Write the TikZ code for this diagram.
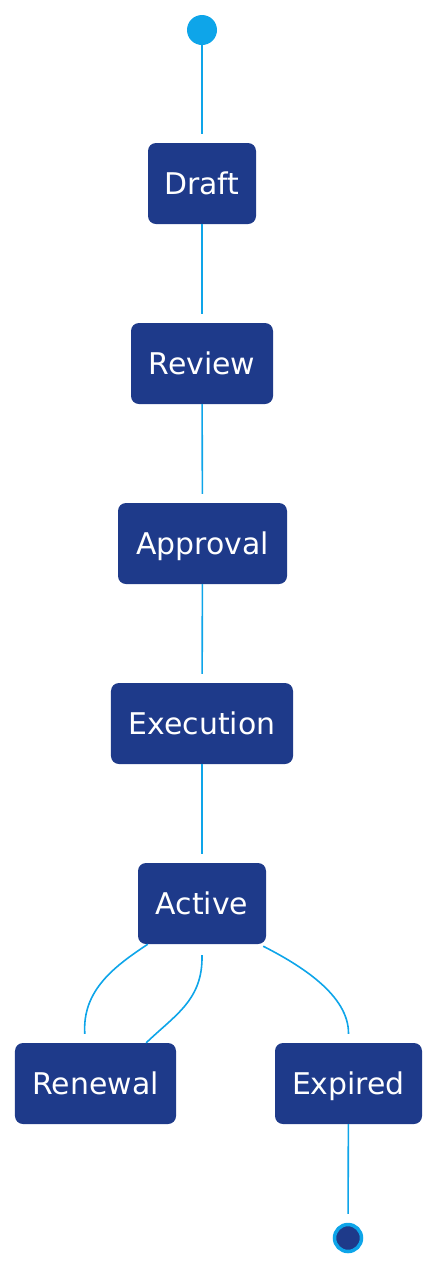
\documentclass[tikz,border=0pt]{standalone}
\usepackage{fontspec}
\setmainfont{DejaVu Sans}
\definecolor{nodeblue}{HTML}{1E3A8A}
\definecolor{linkblue}{HTML}{0EA5E9}
\begin{document}
\begin{tikzpicture}[x=1bp,y=-1bp,
  state/.style={draw=none, fill=nodeblue, rounded corners=8bp, minimum height=81bp,
    inner sep=0pt, text=white, font=\fontsize{30}{35}\selectfont,
    text height=21.8bp, text depth=0pt},
  link/.style={draw=linkblue, line width=1.6bp, shorten >=9bp},
  startdot/.style={circle, fill=linkblue, minimum size=30bp, inner sep=0pt},
  enddot/.style={circle, fill=nodeblue, draw=linkblue, line width=3.5bp, minimum size=27bp, inner sep=0pt}]
\useasboundingbox (0,0) rectangle (438,1268);
\node[startdot] (start) at (202,30) {};
\node[state, minimum width=108bp] (draft) at (202,183.5) {Draft};
\node[state, minimum width=142bp] (review) at (202,363.5) {Review};
\node[state, minimum width=169bp] (approval) at (202.5,543.5) {Approval};
\node[state, minimum width=182bp] (execution) at (202,723.5) {Execution};
\node[state, minimum width=128bp] (active) at (202,903.5) {Active};
\node[state, minimum width=161bp] (renewal) at (95.5,1083.5) {Renewal};
\node[state, minimum width=147bp] (expired) at (348.5,1083.5) {Expired};
\node[enddot] (end) at (348,1238) {};
\draw[link] (start) -- (draft);
\draw[link] (draft) -- (review);
\draw[link] (review) -- (approval);
\draw[link] (approval) -- (execution);
\draw[link] (execution) -- (active);
\draw[link, shorten >=0pt] ([xshift=10bp]active.south west) .. controls (115,966) and (82,990) .. ([xshift=70bp,yshift=9bp]renewal.north west);
\draw[link, shorten >=0pt] ([xshift=-30bp]renewal.north east) .. controls (175,1015) and (203,1000) .. ([yshift=-11bp]active.south);
\draw[link, shorten >=0pt] ([xshift=-3bp,yshift=-2bp]active.south east) .. controls (300,965) and (349,995) .. ([yshift=9bp]expired.north);
\draw[link] (expired) -- (end);
\end{tikzpicture}
\end{document}
